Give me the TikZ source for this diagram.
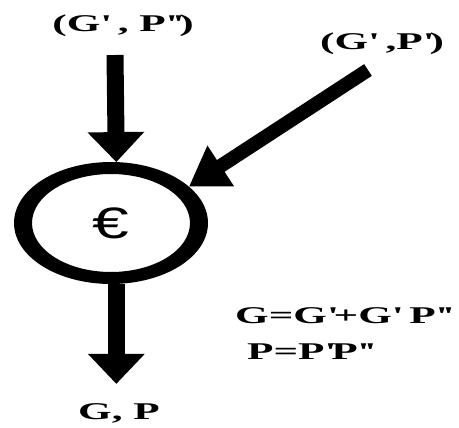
\documentclass[tikz,border=0pt]{standalone}
\usepackage{fontspec}
\setmainfont{Liberation Serif}
\newfontfamily\widefont[FakeStretch=1.8]{Liberation Serif}
\newfontfamily\eurofont[FakeStretch=1.5]{Liberation Sans}
\usetikzlibrary{arrows.meta,shapes.geometric}

\newcommand{\pr}{\textquotesingle}

\tikzset{
	lbl/.style={font=\widefont\bfseries\fontsize{24}{30}\selectfont, inner sep=0pt},
	fatarrow/.style={line width=17pt, -{Triangle[length=30pt,width=55pt]}},
	ring/.style={ellipse, outer sep=0pt, inner sep=0pt,
		minimum width=194pt, minimum height=122pt},
}

\begin{document}
\begin{tikzpicture}[x=1pt,y=-1pt]

		\useasboundingbox (0,0) rectangle (459,428);

		% Inputs
		\node[lbl] (gpp) at (123,26) {(G\pr{} , P\pr\pr)};
		\node[lbl] (gp) at (382,44) {(G\pr{} ,P\pr)};

		% Sum node (thicker at the sides)
		\node[ring] (sum) at (111,223) {\eurofont\fontsize{44}{44}\selectfont €};
		\fill[even odd rule] (sum.center) ellipse (97 and 61)
			(sum.center) ellipse (79 and 49);

		% Output and rules
		\node[lbl] (out) at (119,413) {G, P};
		\node[lbl, anchor=west] (rule1) at (235,316) {G=G\pr+G\pr{} P\pr\pr};
		\node[lbl, anchor=west] (rule2) at (247,352) {P=P\pr P\pr\pr};

		% Arrows
		\coordinate (a1) at (115,55);
		\coordinate (a2) at (368,70);
		\draw[fatarrow] (a1) -- (sum.85);
		\draw[fatarrow, line width=14pt, -{Triangle[length=38pt,width=46pt]}] (a2) -- (sum.25);
		\draw[fatarrow] (sum.-85) -- ++(0,100);

	\end{tikzpicture}
\end{document}
